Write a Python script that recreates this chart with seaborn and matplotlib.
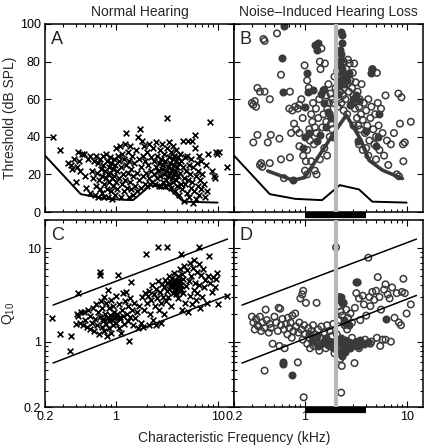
import numpy as np
import pandas as pd
import seaborn as sns
import matplotlib.pyplot as plt
from matplotlib.ticker import LogLocator, NullFormatter, FixedLocator

# ---- panel A: normal hearing thresholds ----
a_freq = [0.24, 0.28, 0.34, 0.36, 0.37, 0.39, 0.40, 0.41, 0.42, 0.43, 0.44, 0.46, 0.48, 0.49, 0.51, 0.53, 0.55, 0.55,
          0.58, 0.60, 0.61, 0.62, 0.63, 0.64, 0.65, 0.66, 0.67, 0.68, 0.69, 0.70, 0.71, 0.72, 0.73, 0.74, 0.75, 0.76,
          0.77, 0.78, 0.79, 0.80, 0.81, 0.82, 0.83, 0.84, 0.85, 0.86, 0.87, 0.88, 0.89, 0.90, 0.91, 0.92, 0.93, 0.94,
          0.95, 0.96, 0.97, 0.98, 0.99,
          1.00, 1.02, 1.03, 1.05, 1.06, 1.08, 1.10, 1.11, 1.12, 1.14, 1.15, 1.17, 1.19, 1.20, 1.22, 1.23, 1.25, 1.26,
          1.28, 1.30, 1.31, 1.33, 1.35, 1.37, 1.38, 1.40, 1.42, 1.44, 1.46, 1.48,
          1.52, 1.55, 1.58, 1.60, 1.62, 1.65, 1.68, 1.70, 1.73, 1.76, 1.78, 1.80, 1.83, 1.86, 1.88, 1.91, 1.94, 1.97,
          2.00, 2.03, 2.06, 2.10, 2.13, 2.16, 2.20, 2.23, 2.27, 2.30, 2.34, 2.38, 2.42, 2.46,
          2.50, 2.53, 2.56, 2.60, 2.63, 2.66, 2.70, 2.73, 2.76, 2.80, 2.83, 2.86, 2.90, 2.93, 2.96, 3.00, 3.03, 3.06,
          3.10, 3.13, 3.16, 3.20, 3.23, 3.26, 3.30, 3.33, 3.36, 3.40, 3.43, 3.46, 3.50, 3.53, 3.56, 3.60, 3.63, 3.66,
          3.70, 3.73, 3.76, 3.80, 3.83, 3.86, 3.90, 3.93, 3.96, 4.00, 4.05, 4.10, 4.15, 4.20, 4.25, 4.30, 4.35, 4.40,
          4.50, 4.55, 4.60, 4.65, 4.70, 4.76, 4.82, 4.88, 4.95, 5.00, 5.07, 5.14, 5.20, 5.27, 5.34, 5.41, 5.48, 5.55,
          5.62, 5.70, 5.78, 5.86, 5.94, 6.02, 6.10, 6.18, 6.26, 6.35, 6.44, 6.53, 6.62, 6.71, 6.80,
          6.9, 7.1, 7.3, 7.5, 7.7, 7.9, 8.1, 8.5, 8.8, 9.2, 9.4, 9.6, 9.9, 10.3, 12.5]
a_thr = [40, 33, 26, 25, 23, 28, 16, 24, 32, 27, 22, 31, 31, 19, 13, 28, 30, 10,
         22, 18, 27, 9, 14, 30, 21, 8, 26, 17, 28, 12, 23, 10, 19, 30, 25, 15,
         8, 22, 31, 18, 12, 27, 20, 8, 24, 16, 29, 21, 11, 26, 18, 7, 23, 14,
         28, 19, 9, 25, 16,
         34, 22, 12, 30, 18, 27, 35, 8, 24, 15, 31, 20, 28, 11, 36, 17, 42, 25,
         13, 32, 21, 8, 27, 16, 35, 23, 12, 30, 19, 9,
         26, 14, 33, 21, 11, 40, 28, 17, 44, 24, 13, 38, 30, 19, 35, 15, 27, 21,
         32, 14, 25, 18, 36, 15, 29, 22, 16, 34, 20, 27, 15, 24,
         37, 18, 30, 22, 14, 26, 33, 19, 14, 28, 23, 36, 16, 25, 20, 31, 14, 27,
         22, 17, 34, 50, 24, 19, 29, 15, 37, 21, 26, 13, 32, 18, 23, 28, 35, 16,
         25, 20, 30, 11, 22, 27, 17, 33, 24, 14, 29, 19, 26, 9, 31, 21, 15, 27,
         12, 24, 38, 18, 6, 29, 15, 22, 10, 30, 17, 38, 25, 8, 20, 13, 28, 38,
         16, 5, 24, 11, 34, 41, 19, 7, 26, 14, 22, 9, 30, 17, 12,
         27, 20, 15, 8, 25, 11, 31, 48, 22, 19, 18, 32, 31, 32, 24]

# threshold curves (thin = normal minimum, thick = impaired)
normal_min_freq = [0.2, 0.45, 0.8, 1.47, 2.2, 3.4, 4.6, 10]
normal_min_thr = [30, 9.5, 7, 6.3, 14.3, 12, 5.5, 5]
nihl_curve_freq = [0.43, 0.76, 0.99, 1.96, 2.55, 3.56, 4.27, 5.8, 9.1]
nihl_curve_thr = [21.8, 16.9, 18.3, 42.6, 51.5, 38.2, 27.5, 22.2, 17.8]

# ---- panel B: noise-induced hearing loss thresholds ----
b_open_freq = [0.30, 0.31, 0.32, 0.33, 0.34, 0.36, 0.39, 0.40, 0.40, 0.45, 0.53, 0.58, 0.71,
               0.31, 0.34, 0.36, 0.37, 0.38, 0.43, 0.46, 0.45, 0.56, 0.58, 0.71, 0.73, 0.62,
               0.70, 0.75, 0.80, 0.85, 0.88, 0.92, 0.78, 0.82, 0.88, 0.88, 0.95, 0.99, 1.05, 1.09, 0.96, 1.00,
               1.02, 1.05, 1.05, 1.10, 1.12, 1.15, 1.18, 1.20, 1.22, 1.25, 1.28, 1.30, 1.35, 1.38, 1.40, 1.42,
               1.45, 1.48, 1.52, 1.55, 1.57, 1.60, 1.62, 1.66, 1.70, 1.72, 1.75, 1.78, 1.80, 1.85, 1.90, 1.95, 2.00,
               2.05, 2.08, 2.10, 2.12, 2.15, 2.18, 2.20, 2.22, 2.25, 2.28, 2.30, 2.33, 2.36, 2.40, 2.43, 2.46,
               2.50, 2.55, 2.60, 2.65, 2.70, 2.75, 2.80, 2.85, 2.90, 2.95, 3.00, 3.05, 3.10, 3.15, 3.20,
               3.25, 3.30, 3.35, 3.40, 3.45, 3.50, 3.55, 3.60, 3.70, 3.80, 3.90, 4.00, 4.10, 4.20, 4.30, 4.40,
               4.50, 4.60, 4.70, 4.80, 4.90, 5.00, 5.10, 5.20, 5.30, 5.40, 5.60, 5.80, 6.00, 6.20, 6.40, 6.60,
               7.00, 7.50, 8.00, 8.30, 8.40, 8.60, 8.90, 9.20, 9.30, 9.60, 11.0, 3.70, 4.20, 4.00, 5.00,
               1.25, 1.40, 1.55, 1.65, 1.75, 1.85, 2.40, 2.60, 3.00, 3.40, 1.15, 1.30]
b_open_thr = [58, 57, 59, 56, 66, 64, 92, 91, 64, 60, 95, 73, 64,
              37, 41, 25, 26, 24, 37, 41, 26, 39, 28, 29, 42, 18,
              55, 54, 56, 55, 57, 60, 47, 44, 42, 35, 50, 78, 70, 66, 30, 22,
              27, 20, 33, 44, 38, 52, 48, 58, 36, 45, 55, 42, 50, 60, 80, 76,
              87, 45, 52, 65, 79, 62, 48, 55, 68, 58, 52, 63, 47, 60, 58, 72, 66,
              62, 75, 56, 68, 82, 60, 71, 64, 78, 58, 69, 74, 62, 80, 66, 72,
              60, 76, 68, 81, 64, 79, 70, 57, 66, 74, 62, 79, 55, 69, 59,
              50, 64, 46, 56, 60, 44, 52, 68, 49, 58, 42, 54, 46, 60, 38, 50,
              56, 76, 44, 36, 52, 40, 74, 58, 46, 33, 55, 42, 30, 62, 38, 25,
              36, 42, 20, 63, 19, 47, 61, 36, 27, 37, 48, 33, 30, 34, 28,
              22, 28, 34, 30, 40, 44, 54, 52, 46, 36, 27, 20]
b_fill_freq = [0.62, 0.59, 0.61, 0.76, 1.25, 1.35, 1.30, 1.01, 1.06, 0.96, 1.00, 1.10, 1.20, 1.45, 1.50, 1.55,
               1.60, 1.70, 1.40, 1.30, 2.25, 2.30, 2.30, 2.20, 2.25, 2.28, 2.20, 2.30, 2.35, 2.22, 2.40, 2.50,
               2.15, 2.10, 2.60, 2.70, 3.20, 3.40, 3.00, 2.80, 3.30, 4.50, 4.60, 5.20, 5.40, 5.00, 4.00, 1.05,
               1.90, 1.80]
b_fill_thr = [99, 82, 64, 17, 89, 90, 86, 56, 64, 34, 40, 42, 65, 63, 65, 58,
              45, 53, 41, 38, 96, 94, 90, 86, 84, 81, 78, 76, 73, 70, 68, 72,
              67, 63, 70, 74, 62, 59, 60, 57, 38, 74, 76, 40, 52, 35, 43, 74,
              40, 50]

# ---- panel C: normal hearing Q10 ----
c_freq = [0.235, 0.28, 0.35, 0.36, 0.42, 0.40, 0.41, 0.42, 0.44, 0.45, 0.47, 0.48, 0.50, 0.52, 0.53, 0.55, 0.56,
          0.58, 0.60, 0.61, 0.62, 0.64, 0.65, 0.66, 0.68, 0.69, 0.70, 0.70, 0.71, 0.72, 0.73, 0.75, 0.76, 0.77,
          0.78, 0.79, 0.80, 0.82, 0.83, 0.84, 0.85, 0.86, 0.88, 0.89, 0.90, 0.91, 0.93, 0.94, 0.96, 0.97, 0.99,
          1.00, 1.02, 1.05, 1.06, 1.08, 1.10, 1.12, 1.14, 1.16, 1.18, 1.20, 1.22, 1.25, 1.27, 1.30, 1.32, 1.35,
          1.36, 1.38, 1.41, 1.43, 1.46, 1.50, 1.55, 1.60, 1.65, 1.70, 1.75, 1.80, 1.85, 1.90, 1.95, 1.98, 2.00,
          2.05, 2.10, 2.12, 2.15, 2.20, 2.25, 2.30, 2.35, 2.40, 2.45, 2.50, 2.55, 2.60, 2.60, 2.65, 2.70, 2.75,
          2.80, 2.85, 2.90, 2.95, 3.00, 3.05, 3.10, 3.15, 3.20, 3.20, 3.25, 3.30, 3.35, 3.40, 3.45, 3.50, 3.55,
          3.60, 3.65, 3.70, 3.75, 3.80, 3.85, 3.90, 3.95, 4.00, 4.05, 4.10, 4.15, 4.20, 4.25, 4.30, 4.35, 4.40,
          4.40, 4.45, 4.50, 4.55, 4.60, 4.70, 4.80, 4.90, 5.00, 5.10, 5.20, 5.30, 5.40, 5.50, 5.60, 5.70, 5.80,
          5.90, 6.00, 6.10, 6.20, 6.30, 6.50, 6.50, 6.60, 6.70, 6.80, 7.00, 7.20, 7.40, 7.60, 7.80, 8.00, 8.20,
          8.50, 8.80, 9.10, 9.40, 9.60, 9.90, 10.0, 12.5,
          3.6, 3.8, 4.0, 4.2, 3.7, 3.9, 4.1, 3.5, 4.3, 0.85, 0.95, 1.0, 0.75, 1.1]
c_q10 = [1.77, 1.22, 0.80, 1.16, 3.3, 1.55, 2.0, 1.9, 1.6, 2.05, 1.5, 2.1, 1.7, 1.45, 2.2, 1.35, 1.9,
         1.6, 2.3, 1.3, 1.75, 2.5, 1.5, 2.1, 1.2, 5.5, 5.1, 1.85, 2.7, 1.45, 2.3, 1.65, 3.0, 1.3,
         2.0, 2.6, 1.55, 1.15, 1.8, 3.6, 2.3, 1.4, 1.95, 2.8, 1.25, 1.7, 2.4, 1.5, 2.1, 1.85, 3.1,
         1.6, 2.0, 5.2, 1.4, 2.5, 1.75, 1.24, 2.2, 3.3, 1.9, 1.55, 2.7, 3.4, 2.0, 1.65, 2.4, 1.02,
         2.9, 1.85, 4.3, 2.2, 1.5, 2.6, 1.8, 2.1, 1.4, 2.4, 1.6, 3.0, 1.45, 2.2, 3.3, 8.6, 2.6,
         3.1, 1.5, 3.5, 2.0, 2.8, 4.0, 1.7, 3.2, 2.4, 3.7, 1.5, 2.9, 10.2, 4.4, 2.2, 3.4, 1.6,
         2.6, 4.1, 3.0, 2.0, 3.8, 4.6, 2.7, 3.5, 10.2, 4.2, 3.0, 5.0, 3.7, 4.4, 2.4, 3.9, 4.8,
         3.3, 4.2, 5.4, 3.6, 4.0, 4.6, 3.2, 4.3, 3.8, 5.0, 2.9, 4.1, 3.5, 6.0, 4.5, 3.7, 8.6,
         4.0, 2.2, 5.3, 3.3, 4.7, 6.4, 2.6, 3.9, 5.8, 2.1, 4.4, 7.0, 3.1, 5.0, 2.5, 6.2, 3.6,
         7.5, 4.2, 2.8, 5.6, 3.3, 10.2, 6.7, 4.0, 2.3, 5.2, 3.0, 6.0, 3.8, 4.6, 2.6, 5.0, 8.3,
         4.2, 3.4, 4.9, 3.8, 4.7, 5.4, 2.5, 3.1,
         3.9, 4.3, 3.6, 4.0, 4.5, 3.4, 4.4, 4.1, 3.7, 1.7, 1.8, 1.9, 1.75, 1.85]

# ---- panel D: noise-induced hearing loss Q10 ----
d_open_freq = [0.30, 0.31, 0.32, 0.33, 0.34, 0.35, 0.36, 0.37, 0.38, 0.40, 0.40, 0.41, 0.42, 0.44, 0.45, 0.46,
               0.48, 0.50, 0.52, 0.54, 0.55, 0.56, 0.57, 0.58, 0.60, 0.62, 0.63, 0.65, 0.67, 0.68, 0.70, 0.72,
               0.74, 0.75, 0.77, 0.80, 0.82, 0.85, 0.86, 0.88, 0.90, 0.92, 0.94, 0.95, 0.96, 0.97, 0.98, 1.00,
               1.02, 1.05, 1.08, 1.10, 1.12, 1.15, 1.18, 1.20, 1.22, 1.25, 1.28, 1.30, 1.32, 1.35, 1.38, 1.40,
               1.45, 1.50, 1.55, 1.60, 1.65, 1.70, 1.75, 1.80, 1.85, 1.90, 1.95, 2.02, 2.05, 2.10, 2.15, 2.18,
               2.20, 2.22, 2.25, 2.27, 2.30, 2.32, 2.35, 2.40, 2.45, 2.50, 2.55, 2.60, 2.65, 2.70, 2.80, 2.90,
               3.00, 3.07, 3.10, 3.20, 3.30, 3.35, 3.40, 3.50, 3.60, 3.70, 3.80, 3.90, 4.00, 4.20, 4.30, 4.40,
               4.50, 4.60, 4.80, 5.00, 5.10, 5.20, 5.40, 5.60, 5.80, 6.00, 6.20, 6.50, 6.80, 7.20, 7.60, 8.00,
               8.40, 8.80, 9.00, 9.30, 9.60, 10.0, 11.0, 4.4, 5.5, 6.2, 7.0, 3.4, 2.9]
d_open_q10 = [1.85, 1.6, 1.35, 1.75, 1.5, 1.45, 1.85, 1.3, 1.6, 0.49, 1.4, 2.2, 1.7, 1.25, 1.55, 1.4,
              0.95, 1.85, 1.6, 1.3, 2.3, 0.9, 2.25, 1.5, 1.75, 1.35, 0.85, 1.55, 1.2, 1.8, 1.4, 1.6,
              1.1, 1.9, 1.3, 2.0, 1.45, 0.6, 1.25, 1.6, 2.9, 1.35, 3.2, 1.05, 3.5, 0.254, 1.5, 1.2,
              2.6, 0.95, 1.4, 1.1, 0.85, 1.3, 1.0, 1.5, 0.9, 1.2, 1.05, 2.6, 0.95, 1.35, 0.8, 1.1,
              1.45, 0.95, 1.25, 0.85, 1.5, 1.0, 1.3, 0.9, 1.15, 1.55, 0.75, 10.2, 1.2, 0.85, 2.4, 3.0,
              1.7, 0.65, 2.1, 0.285, 0.55, 1.9, 1.0, 2.6, 1.5, 0.9, 2.2, 1.35, 1.8, 0.95, 2.0, 1.6,
              0.9, 0.59, 2.3, 3.3, 4.3, 1.0, 2.9, 1.7, 0.95, 3.1, 2.5, 1.05, 1.9, 7.9, 3.0, 2.4,
              1.0, 3.4, 2.8, 3.5, 1.1, 4.9, 3.0, 2.2, 1.05, 3.6, 4.1, 3.2, 2.9, 3.8, 1.8, 3.3,
              1.6, 1.5, 3.4, 4.7, 3.3, 2.0, 2.5, 0.95, 0.9, 1.05, 1.0, 0.85, 1.1]
d_fill_freq = [0.61, 0.61, 0.75, 1.20, 1.35, 1.50, 1.60, 1.70, 1.80, 1.90, 2.00, 2.10, 2.20, 2.25, 2.30, 2.35,
               2.40, 2.45, 2.50, 2.60, 2.70, 2.80, 2.95, 3.10, 3.30, 3.50, 3.80, 4.20, 2.20, 2.25, 2.30, 2.40,
               2.50, 2.70, 3.20, 6.20, 1.10, 1.30]
d_fill_q10 = [0.60, 0.57, 0.44, 1.05, 0.9, 1.0, 1.1, 0.92, 1.0, 0.85, 0.95, 1.05, 0.8, 1.1, 0.7, 0.9,
              1.0, 0.78, 1.05, 0.9, 1.0, 0.85, 0.95, 1.0, 0.9, 1.05, 0.95, 1.0, 2.8, 3.0, 2.6, 1.7,
              1.6, 1.5, 4.3, 1.75, 1.2, 1.15]

# Q10 range lines
q_line_freq = [0.24, 12.5]
q_line_hi = [2.46, 12.5]
q_line_lo = [0.59, 3.12]

noise_band = [1, 4]     # kHz, exposure band
exposure_freq = 2       # kHz

sns.set_style("ticks")
plt.rcParams['font.family'] = ['Liberation Sans', 'DejaVu Sans']
plt.rcParams['mathtext.fontset'] = 'custom'
plt.rcParams['mathtext.rm'] = 'Liberation Sans'
plt.rcParams['mathtext.default'] = 'regular'

ink = '#3a3a3a'
W, H = 426, 447
fig = plt.figure(figsize=(W / 100, H / 100), dpi=100)

def box(x0, y0, x1, y1):
    return [x0 / W, 1 - y1 / H, (x1 - x0) / W, (y1 - y0) / H]

axA = fig.add_axes(box(45, 24, 234, 212))
axB = fig.add_axes(box(234, 24, 423, 212))
axC = fig.add_axes(box(45, 220, 234, 407))
axD = fig.add_axes(box(234, 220, 423, 407))

# A
sns.scatterplot(x=a_freq, y=a_thr, marker='x', color='black', s=17, linewidth=1.2, ax=axA)
sns.lineplot(x=normal_min_freq, y=normal_min_thr, color='black', lw=1.4, sort=False, estimator=None, ax=axA)

# B
sns.scatterplot(x=b_open_freq, y=b_open_thr, marker='o', facecolor='none', edgecolor=ink, s=22,
                linewidth=1.1, ax=axB)
sns.scatterplot(x=b_fill_freq, y=b_fill_thr, marker='o', color=ink, edgecolor=ink, s=22,
                linewidth=1.1, ax=axB)
sns.lineplot(x=normal_min_freq, y=normal_min_thr, color='black', lw=1.4, sort=False, estimator=None, ax=axB)
sns.lineplot(x=nihl_curve_freq, y=nihl_curve_thr, color=ink, lw=2.6, sort=False, estimator=None, ax=axB)

# C
sns.scatterplot(x=c_freq, y=c_q10, marker='x', color='black', s=17, linewidth=1.2, ax=axC)

# D
sns.scatterplot(x=d_open_freq, y=d_open_q10, marker='o', facecolor='none', edgecolor=ink, s=22,
                linewidth=1.1, ax=axD)
sns.scatterplot(x=d_fill_freq, y=d_fill_q10, marker='o', color=ink, edgecolor=ink, s=22,
                linewidth=1.1, ax=axD)

for ax in (axC, axD):
    sns.lineplot(x=q_line_freq, y=q_line_hi, color='black', lw=1.1, sort=False, estimator=None, ax=ax)
    sns.lineplot(x=q_line_freq, y=q_line_lo, color='black', lw=1.1, sort=False, estimator=None, ax=ax)

for ax in (axB, axD):
    ax.axvline(exposure_freq, color='#b8b8b8', lw=3, zorder=4)
    ax.plot(noise_band, [-0.017, -0.017], color='black', lw=4.5, solid_capstyle='butt',
            transform=ax.get_xaxis_transform(), clip_on=False)

for ax, letter in zip((axA, axB, axC, axD), 'ABCD'):
    ax.set_xscale('log')
    ax.set_xlim(0.2, 14.5)
    ax.xaxis.set_major_locator(FixedLocator([0.2, 1, 10]))
    ax.xaxis.set_minor_locator(LogLocator(base=10, subs=np.arange(2, 10)))
    ax.xaxis.set_minor_formatter(NullFormatter())
    ax.set_xticklabels(['0.2', '1', '10'])
    ax.tick_params(which='both', direction='in', top=True, right=True, width=0.8,
                   labelsize=9, colors='black', pad=3)
    ax.tick_params(which='major', length=4.5)
    ax.tick_params(which='minor', length=2.5)
    for s in ax.spines.values():
        s.set_linewidth(1.1)
        s.set_color('black')
    ax.text(0.03, 0.965, letter, transform=ax.transAxes, fontsize=13, va='top', ha='left')

for ax in (axA, axB):
    ax.set_ylim(0, 100)
    ax.set_yticks([0, 20, 40, 60, 80, 100])
    ax.tick_params(labelbottom=False)

for ax in (axC, axD):
    ax.set_yscale('log')
    ax.set_ylim(0.2, 20)
    ax.yaxis.set_major_locator(FixedLocator([0.2, 1, 10]))
    ax.yaxis.set_minor_locator(LogLocator(base=10, subs=np.arange(2, 10)))
    ax.yaxis.set_minor_formatter(NullFormatter())
    ax.set_yticklabels(['0.2', '1', '10'])

for ax in (axB, axD):
    ax.tick_params(labelleft=False)

axA.set_title('Normal Hearing', fontsize=10, pad=6)
axB.set_title('Noise\u2013Induced Hearing Loss', fontsize=10, pad=6)
axA.set_ylabel('Threshold (dB SPL)', fontsize=10)
axC.set_ylabel('Q$_{10}$', fontsize=10)
axA.yaxis.set_label_coords(-0.15, 0.5)
axC.yaxis.set_label_coords(-0.15, 0.5)
fig.text(234 / W, 1 - 438 / H, 'Characteristic Frequency (kHz)', fontsize=10, ha='center', va='center')

fig.savefig('out.png', dpi=100)
